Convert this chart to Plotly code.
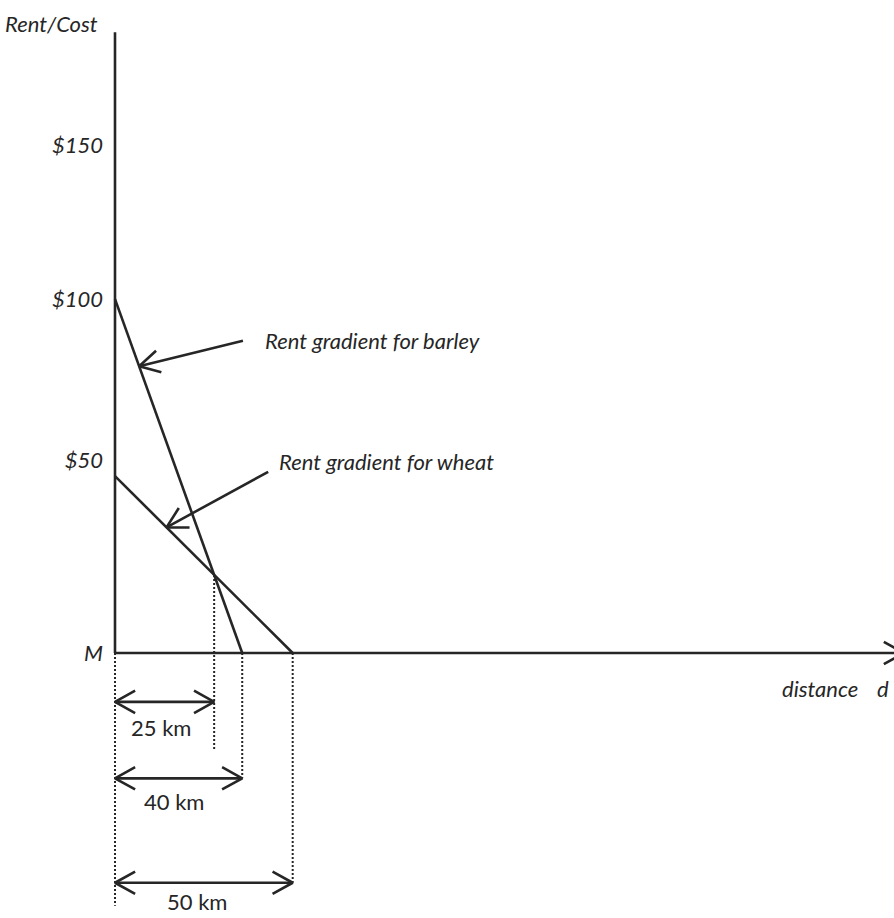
import math
import plotly.graph_objects as go

W, H = 894, 918

# ---------------- data (the sketch is not drawn to scale) ----------------
y_tick_pos = [0, 54.5, 100, 143.5]          # where the sketch places its axis labels, in $
y_tick_text = ["M", "$50", "$100", "$150"]

barley_dist = [0, 35.8]
barley_rent = [100, 0]
wheat_dist = [0, 50]
wheat_rent = [50, 0]

boundary_dist = [27.9, 35.8, 50]
boundary_text = ["25 km", "40 km", "50 km"]

gradient_text = ["Rent gradient for barley", "Rent gradient for wheat"]
gradient_point_dist = [6.8, 14.5]           # where each label's arrow touches its line

y_title = "Rent/Cost"
x_title = "distance"
x_symbol = "d"

# ---------------- layout geometry ----------------
X0, X1 = -32.36, 219.2
Y0, Y1 = -74.86, 184.5
KX = W / (X1 - X0)   # px per km
KY = H / (Y1 - Y0)   # px per $

INK = "#262626"
FONT = "Lato"
LW = 2.6

axis_top = 175.4
axis_right = 222.0
boundary_arrow_level = [-13.8, -35.4, -64.9]
boundary_label_level = [-21.0, -42.0, -70.2]
boundary_drop_bottom = [-27.5, -35.4, -64.9]
origin_drop_bottom = -71.4
label_pos = [(41.7, 88.2), (45.6, 54.0)]        # left edge / centre of the gradient labels
label_tail = [(36.0, 88.2), (43.1, 51.2)]


def rent_at(xs, ys, d):
    return ys[0] + (ys[1] - ys[0]) * (d - xs[0]) / (xs[1] - xs[0])


def chevron(tip, tail, length=23, half=29):
    tx, ty = tip[0] * KX, -tip[1] * KY
    sx, sy = tail[0] * KX, -tail[1] * KY
    ang = math.atan2(sy - ty, sx - tx)
    xs, ys = [], []
    for s in (1, 0, -1):
        if s == 0:
            xs.append(tip[0]); ys.append(tip[1]); continue
        a = ang + s * math.radians(half)
        xs.append((tx + length * math.cos(a)) / KX)
        ys.append(-(ty + length * math.sin(a)) / KY)
    return xs, ys


fig = go.Figure()


def line(xs, ys, dash="solid", width=LW):
    fig.add_trace(go.Scatter(x=xs, y=ys, mode="lines", hoverinfo="skip", showlegend=False,
                             line=dict(color=INK, width=width, dash=dash)))


def arrow(tip, tail, both=False):
    line([tail[0], tip[0]], [tail[1], tip[1]])
    cx, cy = chevron(tip, tail)
    line(cx, cy)
    if both:
        cx, cy = chevron(tail, tip)
        line(cx, cy)


# axes
line([0, 0], [0, axis_top])
arrow((axis_right, 0), (0, 0))

# rent gradients
line(barley_dist, barley_rent)
line(wheat_dist, wheat_rent)

# dotted drop lines
line([0, 0], [0, origin_drop_bottom], dash="2px,2px", width=2)
for d, bottom in zip(boundary_dist, boundary_drop_bottom):
    top = min(max(rent_at(barley_dist, barley_rent, d), 0), max(rent_at(wheat_dist, wheat_rent, d), 0))
    line([d, d], [top, bottom], dash="2px,2px", width=2)

# distance arrows + labels
annotations = []
for d, lvl, lab_lvl, txt in zip(boundary_dist, boundary_arrow_level, boundary_label_level, boundary_text):
    arrow((d, lvl), (0, lvl), both=True)
    annotations.append(dict(x=d * 0.46, y=lab_lvl, text=txt, showarrow=False,
                            xanchor="center", yanchor="middle",
                            font=dict(family=FONT, size=22, color=INK)))

# gradient labels with arrows
series = [(barley_dist, barley_rent), (wheat_dist, wheat_rent)]
for (xs, ys), pd, txt, pos, tail in zip(series, gradient_point_dist, gradient_text, label_pos, label_tail):
    tip = (pd, rent_at(xs, ys, pd))
    arrow(tip, tail)
    annotations.append(dict(x=pos[0], y=pos[1], text=txt, showarrow=False,
                            xanchor="left", yanchor="middle",
                            font=dict(family=FONT, size=22, color=INK, style="italic")))

# axis titles
annotations.append(dict(x=-15 / KX, y=(653 - 23) / KY, text=y_title, showarrow=False,
                        xanchor="right", yanchor="middle",
                        font=dict(family=FONT, size=22, color=INK, style="italic")))
annotations.append(dict(x=(860 - 115) / KX, y=-35 / KY, text=x_title, showarrow=False,
                        xanchor="right", yanchor="middle",
                        font=dict(family=FONT, size=22, color=INK, style="italic")))
annotations.append(dict(x=(883 - 115) / KX, y=-35 / KY, text=x_symbol, showarrow=False,
                        xanchor="center", yanchor="middle",
                        font=dict(family=FONT, size=22, color=INK, style="italic")))

fig.update_layout(
    width=W, height=H,
    margin=dict(l=0, r=0, t=0, b=0),
    paper_bgcolor="white", plot_bgcolor="white",
    annotations=annotations,
    xaxis=dict(range=[X0, X1], visible=False, domain=[0, 1]),
    yaxis=dict(range=[Y0, Y1], anchor="free", position=115 / W,
               showline=False, showgrid=False, zeroline=False,
               tickmode="array", tickvals=y_tick_pos, ticktext=y_tick_text, ticks="",
               ticklabelstandoff=12,
               tickfont=dict(family=FONT, size=22, color=INK, style="italic")),
)

fig.write_html("out.html", config={"displayModeBar": False},
               post_script="document.body.style.margin='0';document.body.style.overflow='hidden';")
